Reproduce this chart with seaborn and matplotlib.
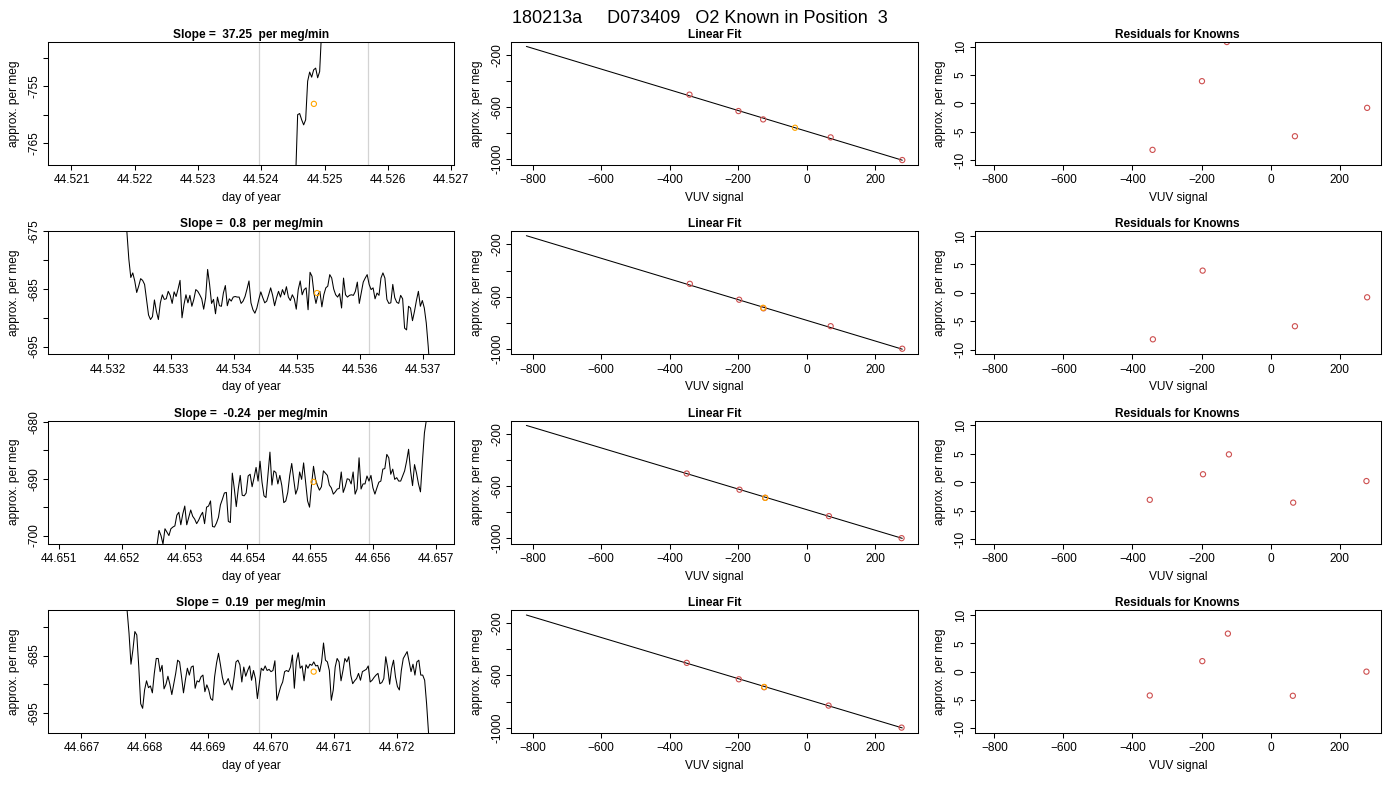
import numpy as np
import matplotlib
matplotlib.use("Agg")
import matplotlib.pyplot as plt
from matplotlib.ticker import FixedLocator, FixedFormatter
import seaborn as sns

sns.set_style("ticks")
plt.rcParams["font.family"] = ["Liberation Sans", "DejaVu Sans"]
plt.rcParams["font.size"] = 8.6
plt.rcParams["axes.edgecolor"] = "black"
plt.rcParams["axes.linewidth"] = 0.75
plt.rcParams["text.color"] = "black"
plt.rcParams["axes.labelcolor"] = "black"
plt.rcParams["axes.titlecolor"] = "black"
plt.rcParams["xtick.color"] = "black"
plt.rcParams["ytick.color"] = "black"

RED = "#cd4f4f"
ORANGE = "#ffa500"

main_title = "180213a     D073409   O2 Known in Position  3"
slopes = ["37.25", "0.8", "-0.24", "0.19"]

# ---- left column: approx. per meg vs day of year ----
trace1_days = (44.524542, 44.524953)
trace1 = [-771, -760, -759.8, -760.9, -761.8, -760.9, -754.1, -752.5, -753.4,
          -752.1, -751.8, -753.5, -752.4, -745]

trace2_days = (44.53227, 44.537116)
trace2 = [-668, -675, -679.8, -683, -682.2, -683.6, -685.6, -684.5, -683.2, -683.5,
          -684.2, -686.8, -689.5, -690.3, -689.8, -686.9, -688.9, -690.3, -687.4, -686,
          -686.8, -686.7, -685.4, -686.1, -687.5, -685.5, -686.3, -685, -683.5, -690,
          -687.7, -686, -687.4, -686.1, -688, -686.8, -685.1, -685.4, -686, -686.7,
          -688.5, -686.5, -681.6, -684.2, -687.5, -686.8, -689.3, -686.4, -687.9, -688,
          -685.7, -684.4, -687.9, -686.7, -687.1, -686.4, -686.3, -686.4, -686.4, -687.5,
          -687.1, -686.3, -685, -683.6, -687.4, -688.6, -689.2, -688.3, -686.8, -685.5,
          -686.5, -687.4, -687.1, -686, -684.8, -686.1, -687.9, -686.5, -685.4, -686.4,
          -685.1, -686, -684.6, -686.4, -687, -686, -686.7, -688.5, -685.1, -683.6,
          -686, -685.1, -684.8, -688.6, -682.1, -682.8, -685.8, -687.5, -686, -685.4,
          -688.1, -686, -684.8, -684.5, -682.5, -683.1, -685, -686, -686.4, -685.8,
          -688.3, -683.1, -686, -686.4, -686.1, -686, -686.1, -685.4, -683.8, -687.5,
          -685.7, -683.8, -683.1, -682.5, -684.2, -685.1, -684.8, -686.7, -685.7, -686.1,
          -683.1, -682.2, -683.1, -686.8, -687.5, -687.4, -684.2, -686.5, -687.3, -687.5,
          -686.1, -686.7, -691.8, -692.1, -688, -688.3, -690.5, -688.9, -687, -685.4,
          -688, -687, -688.3, -690.9, -695, -700]

trace3_days = (44.652563, 44.656845)
trace3 = [-701.7, -699.1, -700, -701.5, -698.8, -699.4, -700, -698.8, -698.5, -698.3,
          -696.4, -695.9, -698.1, -696.2, -694.8, -698.1, -696.8, -695.5, -696.6, -697.1,
          -697.9, -697.3, -696.5, -695.9, -697.9, -695, -694.8, -693.9, -698.4, -698.5,
          -697.8, -696.8, -694.6, -693.6, -692.5, -692.4, -697.5, -697.7, -689, -691.7,
          -694.9, -691.8, -689.4, -692.9, -693, -692.5, -689.5, -689.2, -691.4, -689.8,
          -688, -690.4, -686.9, -690.6, -693, -693.3, -689.2, -685.3, -691.1, -688.6,
          -688.9, -690.9, -689.4, -691.2, -694.2, -693.9, -692.4, -689.4, -687.3, -690.1,
          -692.7, -691.7, -688.8, -690.1, -687.2, -690.6, -693.9, -695, -691.1, -687.8,
          -690.1, -691.2, -692, -691.4, -688.6, -689, -689.4, -691.1, -691.6, -692.7,
          -692.3, -691.8, -691.7, -688.8, -692.4, -691.4, -690, -690.1, -690.9, -688.8,
          -692.7, -691.8, -686.3, -691.8, -690.9, -690.9, -689.5, -690.4, -689.4, -691.6,
          -692.7, -691.6, -690.6, -690.4, -688.3, -688.2, -685.7, -686.3, -689.2, -688.3,
          -690.1, -689.8, -690.4, -690.4, -689.5, -688.6, -686.9, -684.8, -688.6, -691.2,
          -687.5, -689, -690.9, -692.3, -686.9, -681.9, -679.6]

trace4_days = (44.667692, 44.672531)
trace4 = [-673, -677.1, -681.1, -686.5, -684, -680.8, -681.4, -686.9, -693.4, -694.2,
          -691, -689.4, -690.6, -690.3, -691.5, -688.1, -685.5, -685.5, -687.8, -686.7,
          -690.8, -690, -688.6, -690, -691.8, -690, -688.1, -685.8, -686.1, -688.7,
          -691.5, -689.2, -687.2, -688.4, -687, -686.8, -690.7, -689.4, -689.6, -688.7,
          -688.4, -691.3, -690.1, -691, -692.5, -692.8, -688.7, -686.3, -684.6, -686.6,
          -688.8, -690.1, -689.7, -689, -690.1, -691, -688.8, -686.1, -685.8, -686.6,
          -689.6, -687, -688.6, -687.6, -686.8, -689.3, -687.6, -689, -692.5, -689.9,
          -687.2, -687.6, -686.8, -687.6, -687.4, -687.8, -687.6, -685.9, -692.8, -691.6,
          -690.4, -689.6, -687.8, -687.6, -687.8, -687, -684.9, -690.7, -686.1, -684.5,
          -687.2, -686.8, -689.4, -686.6, -687.2, -686.5, -686.7, -686.1, -686.8, -686.7,
          -687.8, -686.1, -682.8, -685.8, -686.1, -687.6, -692.8, -691, -687, -685.5,
          -686.1, -689.4, -687.6, -685.5, -686.1, -685.2, -688.4, -689.9, -689.4, -689,
          -688.1, -689.3, -687.8, -687.6, -687.4, -686.8, -689.6, -689.3, -688.8, -688.4,
          -688.1, -689.9, -689.7, -689, -685.2, -687.2, -690, -687.2, -685.8, -688.7,
          -690.4, -691, -687.6, -685.5, -684.9, -684.3, -686.1, -687.8, -686.5, -688.4,
          -686.1, -685.8, -688.4, -688.4, -689.3, -693.4, -698.5, -701]

traces = [trace1, trace2, trace3, trace4]
trace_days = [trace1_days, trace2_days, trace3_days, trace4_days]

# averaging window bounds (grey lines)
windows = [(44.52396, 44.52569), (44.53440, 44.53614),
           (44.65418, 44.65593), (44.66982, 44.67155)]
# mean of the window (orange point)
mean_day = [44.52483, 44.53532, 44.65505, 44.67068]
mean_val = [-758.1, -685.7, -690.55, -687.8]

day_lims = [(44.52063, 44.52705), (44.53105, 44.53750),
            (44.65083, 44.65729), (44.66647, 44.67291)]
day_ticks = [[44.521, 44.522, 44.523, 44.524, 44.525, 44.526, 44.527],
             [44.532, 44.533, 44.534, 44.535, 44.536, 44.537],
             [44.651, 44.652, 44.653, 44.654, 44.655, 44.656, 44.657],
             [44.667, 44.668, 44.669, 44.670, 44.671, 44.672]]
val_lims = [(-768.8, -747.2), (-696.3, -675), (-701.4, -679.8), (-698.5, -677.1)]
val_ticks = [[-765, -760, -755, -750], [-695, -690, -685, -680, -675],
             [-700, -695, -690, -685, -680], [-695, -690, -685, -680]]
val_labels = [["-765", "", "-755", ""], ["-695", "", "-685", "", "-675"],
              ["-700", "", "-690", "", "-680"], ["-695", "", "-685", ""]]

# ---- middle column: linear fit of knowns ----
known_vuv = [[-342, -199, -127, 70, 279],
             [-341, -197, -126, 70, 279],
             [-350, -196, -121, 65, 277],
             [-350, -198, -124, 64, 277]]
known_val = [[-504, -630, -694, -832, -1006],
             [-502, -624, -690, -827, -1000],
             [-504, -628, -690, -831, -1000],
             [-503, -629, -690, -831, -1000]]
sample_vuv = [-34, -127, -121, -124]
fit_slope = [-0.796, -0.794, -0.790, -0.790]
fit_icpt = [-785, -782, -781, -782]
fit_range = (-818, 279)

# ---- right column: residuals ----
resid = [[-8.2, 3.9, 10.8, -5.8, -0.8],
         [-8.2, 3.9, 12.0, -5.9, -0.8],
         [-3.1, 1.4, 4.9, -3.6, 0.2],
         [-4.2, 1.85, 6.7, -4.25, 0.0]]


def style_axes(ax):
    ax.tick_params(axis="both", direction="out", length=3.6, width=0.75,
                   colors="black", labelsize=8.6)
    ax.tick_params(axis="x", pad=3.2)
    ax.tick_params(axis="y", pad=2.0, labelrotation=90)
    for lab in ax.get_yticklabels():
        lab.set_va("center")
    for sp in ax.spines.values():
        sp.set_visible(True)
        sp.set_color("black")
        sp.set_linewidth(0.75)


def set_yticks(ax, ticks, labels):
    ax.yaxis.set_major_locator(FixedLocator(ticks))
    ax.yaxis.set_major_formatter(FixedFormatter(labels))


fig, axes = plt.subplots(4, 3, figsize=(14, 8), dpi=100)
fig.subplots_adjust(left=0.0343, right=0.9864, top=0.9475, bottom=0.0838,
                    wspace=0.14, hspace=0.545)

for r in range(4):
    # time series
    ax = axes[r, 0]
    days = np.linspace(trace_days[r][0], trace_days[r][1], len(traces[r]))
    for w in windows[r]:
        ax.axvline(w, color="#d3d3d3", lw=0.9, zorder=1)
    sns.lineplot(x=days, y=traces[r], ax=ax, color="black", lw=0.75,
                 sort=False, estimator=None, zorder=2)
    sns.scatterplot(x=[mean_day[r]], y=[mean_val[r]], ax=ax, marker="o", s=14,
                    facecolor="none", edgecolor=ORANGE, linewidth=0.8, zorder=3)
    ax.set_xlim(day_lims[r])
    ax.set_ylim(val_lims[r])
    ax.xaxis.set_major_locator(FixedLocator(day_ticks[r]))
    ax.xaxis.set_major_formatter(FixedFormatter(["%.3f" % t for t in day_ticks[r]]))
    set_yticks(ax, val_ticks[r], val_labels[r])
    ax.set_title("Slope =  %s  per meg/min" % slopes[r], fontsize=8.6,
                 fontweight="bold", pad=3)
    ax.set_xlabel("day of year", fontsize=8.6, labelpad=4)
    ax.set_ylabel("approx. per meg", fontsize=8.6, labelpad=6)
    style_axes(ax)

    # linear fit
    ax = axes[r, 1]
    fx = np.array(fit_range)
    sns.lineplot(x=fx, y=fit_icpt[r] + fit_slope[r] * fx, ax=ax, color="black",
                 lw=0.75, zorder=1)
    sns.scatterplot(x=known_vuv[r], y=known_val[r], ax=ax, marker="o", s=14,
                    facecolor="none", edgecolor=RED, linewidth=0.8, zorder=2)
    sns.scatterplot(x=[sample_vuv[r]], y=[mean_val[r]], ax=ax, marker="o", s=14,
                    facecolor="none", edgecolor=ORANGE, linewidth=0.8, zorder=3)
    ax.set_xlim(-862, 324)
    ax.set_ylim(-1041, -100)
    ax.xaxis.set_major_locator(FixedLocator([-800, -600, -400, -200, 0, 200]))
    set_yticks(ax, [-1000, -800, -600, -400, -200], ["-1000", "", "-600", "", "-200"])
    ax.set_title("Linear Fit", fontsize=8.6, fontweight="bold", pad=3)
    ax.set_xlabel("VUV signal", fontsize=8.6, labelpad=4)
    ax.set_ylabel("approx. per meg", fontsize=8.6, labelpad=6)
    style_axes(ax)

    # residuals
    ax = axes[r, 2]
    sns.scatterplot(x=known_vuv[r], y=resid[r], ax=ax, marker="o", s=14,
                    facecolor="none", edgecolor=RED, linewidth=0.8)
    ax.set_xlim(-857, 319)
    ax.set_ylim(-10.8, 10.8)
    ax.xaxis.set_major_locator(FixedLocator([-800, -600, -400, -200, 0, 200]))
    set_yticks(ax, [-10, -5, 0, 5, 10], ["-10", "-5", "0", "5", "10"])
    ax.set_title("Residuals for Knowns", fontsize=8.6, fontweight="bold", pad=3)
    ax.set_xlabel("VUV signal", fontsize=8.6, labelpad=4)
    ax.set_ylabel("approx. per meg", fontsize=8.6, labelpad=6)
    style_axes(ax)

fig.suptitle(main_title, fontsize=13, y=0.988)
fig.savefig("out.png", dpi=100)
